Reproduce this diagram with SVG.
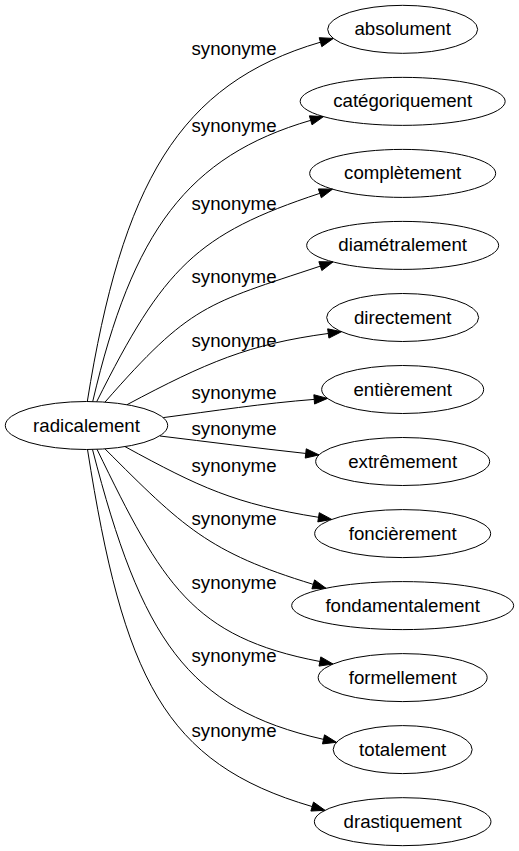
<svg xmlns="http://www.w3.org/2000/svg" width="519" height="851" viewBox="0 0 519 851">
<style>
.node ellipse{fill:none;stroke:#000;stroke-width:1}
.node text,.lbl{font-family:"Liberation Sans",Arial,sans-serif;font-size:18.67px;fill:#000;text-anchor:middle}
.edges path{fill:none;stroke:#000;stroke-width:1}
.edges polygon{fill:#000;stroke:#000;stroke-width:1}
</style>
<rect width="519" height="851" fill="#fff"/>
<g id="edges" class="edges">
<path d="M87.3,401.5 C122.1,184.4 178.4,83.6 320.5,42.18"/>
<polygon points="321.81,46.66 333.3,38.45 319.19,37.7"/>
<text class="lbl" x="234" y="55">synonyme</text>
<path d="M92.7,401.6 C132.4,231.1 187.8,156.2 310.7,120.33"/>
<polygon points="312.01,124.81 323.5,116.6 309.39,115.85"/>
<text class="lbl" x="234" y="132">synonyme</text>
<path d="M96.7,401.7 C163.75,267.6 196.45,234.1 319.85,193.34"/>
<polygon points="321.32,197.77 332.5,189.15 318.38,188.91"/>
<text class="lbl" x="234" y="210">synonyme</text>
<path d="M105,402.1 C190.7,304.2 206.45,304 320.35,266.11"/>
<polygon points="321.83,270.54 333,261.9 318.87,261.68"/>
<text class="lbl" x="234" y="283">synonyme</text>
<path d="M127,404.7 C206.4,362.4 249,344.1 328.29,333.47"/>
<polygon points="328.91,338.1 341.5,331.7 327.67,328.84"/>
<text class="lbl" x="234" y="347">synonyme</text>
<path d="M163.3,417.6 C212.8,411.1 264.3,403.2 314.21,399.4"/>
<polygon points="314.56,404.06 327.5,398.4 313.86,394.74"/>
<text class="lbl" x="234" y="399">synonyme</text>
<path d="M160,436 C209.5,442 256,448 305.75,453.45"/>
<polygon points="305.24,458.09 319,454.9 306.26,448.81"/>
<text class="lbl" x="234" y="435">synonyme</text>
<path d="M125,446.6 C199.6,487.3 234.6,503.9 318.54,517.29"/>
<polygon points="317.8,521.9 331.7,519.4 319.28,512.68"/>
<text class="lbl" x="234" y="472">synonyme</text>
<path d="M105,448.9 C182.8,526.7 208.1,552.3 313.26,584.36"/>
<polygon points="311.9,588.82 326,588.25 314.62,579.9"/>
<text class="lbl" x="234" y="525">synonyme</text>
<path d="M97,449.3 C162.55,584.3 192.2,637.1 319.91,661.49"/>
<polygon points="319.03,666.08 333,664 320.79,656.9"/>
<text class="lbl" x="234" y="589">synonyme</text>
<path d="M92.5,449.5 C141.25,638.3 187,708.6 323.5,739.37"/>
<polygon points="322.47,743.92 336.5,742.3 324.53,734.82"/>
<text class="lbl" x="234" y="662">synonyme</text>
<path d="M87.5,449.5 C123.4,676.7 163.4,763.2 312.2,806.57"/>
<polygon points="310.89,811.05 325,810.3 313.51,802.09"/>
<text class="lbl" x="234" y="737">synonyme</text>
</g>
<g id="radicalement" class="node"><ellipse cx="86.5" cy="425.5" rx="81.2" ry="24"/><text x="86.5" y="431.5">radicalement</text></g>
<g id="absolument" class="node"><ellipse cx="402.67" cy="29.33" rx="75" ry="24"/><text x="402.67" y="35.33">absolument</text></g>
<g id="categoriquement" class="node"><ellipse cx="402.67" cy="101.36" rx="102.5" ry="24"/><text x="402.67" y="107.36">catégoriquement</text></g>
<g id="completement" class="node"><ellipse cx="402.67" cy="173.4" rx="93" ry="24"/><text x="402.67" y="179.4">complètement</text></g>
<g id="diametralement" class="node"><ellipse cx="402.67" cy="245.4" rx="96" ry="24"/><text x="402.67" y="251.4">diamétralement</text></g>
<g id="directement" class="node"><ellipse cx="402.67" cy="317.5" rx="76" ry="24"/><text x="402.67" y="323.5">directement</text></g>
<g id="entierement" class="node"><ellipse cx="402.67" cy="389.5" rx="81" ry="24"/><text x="402.67" y="395.5">entièrement</text></g>
<g id="extremement" class="node"><ellipse cx="402.67" cy="461.5" rx="87" ry="24"/><text x="402.67" y="467.5">extrêmement</text></g>
<g id="foncierement" class="node"><ellipse cx="402.67" cy="533.6" rx="88" ry="24"/><text x="402.67" y="539.6">foncièrement</text></g>
<g id="fondamentalement" class="node"><ellipse cx="402.67" cy="605.6" rx="111" ry="24"/><text x="402.67" y="611.6">fondamentalement</text></g>
<g id="formellement" class="node"><ellipse cx="402.67" cy="677.6" rx="84.5" ry="24"/><text x="402.67" y="683.6">formellement</text></g>
<g id="totalement" class="node"><ellipse cx="402.67" cy="749.6" rx="69.5" ry="24"/><text x="402.67" y="755.6">totalement</text></g>
<g id="drastiquement" class="node"><ellipse cx="402.67" cy="821.67" rx="88.3" ry="24"/><text x="402.67" y="827.67">drastiquement</text></g>
</svg>
